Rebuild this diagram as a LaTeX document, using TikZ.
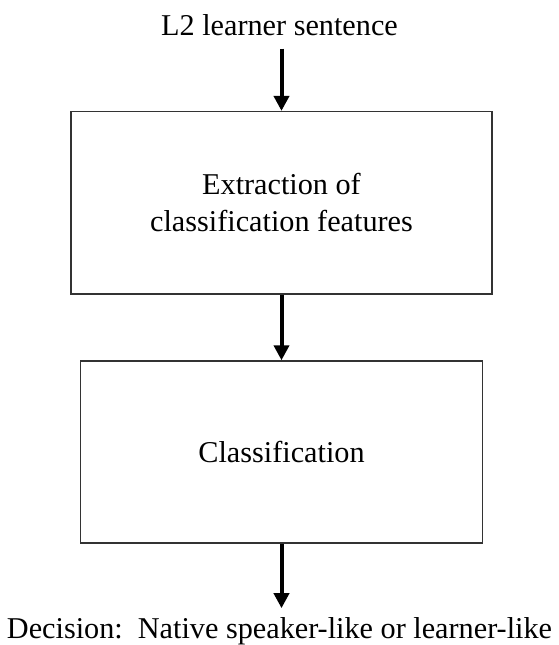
\documentclass[tikz,border=0pt]{standalone}
\usepackage{fontspec}
\setmainfont{Liberation Serif}
\usetikzlibrary{shapes,arrows.meta}
\tikzstyle{blk}=[rectangle,draw=black!80,line width=.03cm,align=center]
\tikzstyle{lbl}=[inner xsep=0pt,inner ysep=.26cm]
\tikzstyle{arr}=[line width=.08cm,-{Triangle[width=.3cm,length=.3cm]}]

\begin{document}
\begin{tikzpicture}[font=\fontsize{17.2}{21}\selectfont]
	\useasboundingbox (0,0) rectangle (11.18,-12.9);
	% input and output texts
	\node[lbl,anchor=base] (in) at (5.59,-.7) {L2 learner sentence};
	\node[lbl,inner ysep=.17cm,anchor=base] (out) at (5.59,-12.76) {Decision:\ \ Native speaker-like or learner-like};
	% the two stages
	\node[blk,minimum width=8.42cm,minimum height=3.646cm] (feat) at (5.63,-4.056) {Extraction of\\classification features};
	\node[blk,minimum width=8.034cm,minimum height=3.634cm] (cls) at (5.63,-9.038) {Classification};
	% arrows
	\draw[arr] (in.south -| feat.north) -- (feat.north);
	\draw[arr] (feat.south) -- (cls.north);
	\draw[arr] (cls.south) -- (out.north -| cls.south);
\end{tikzpicture}
\end{document}
